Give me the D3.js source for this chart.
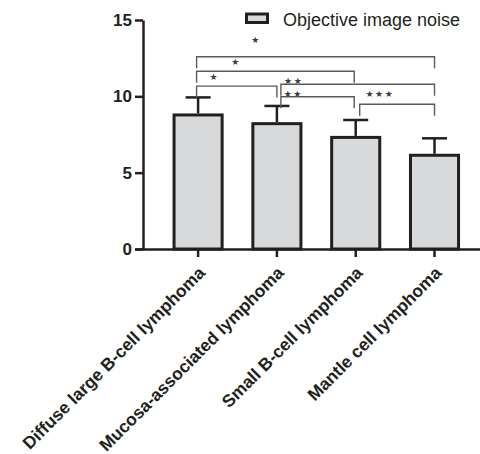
<!DOCTYPE html>
<html lang="en">
<head>
<meta charset="utf-8">
<title>Objective image noise</title>
<script src="https://d3js.org/d3.v7.min.js"></script>
<style>
  body { margin: 0; background: #fff; }
  svg { display: block; font-family: "Liberation Sans", Arial, sans-serif; }
</style>
</head>
<body>
<script>
// data
var categories = ["Diffuse large B-cell lymphoma", "Mucosa-associated lymphoma", "Small B-cell lymphoma", "Mantle cell lymphoma"];
var means = [8.78, 8.21, 7.31, 6.14];
var errors = [1.15, 1.16, 1.14, 1.11];   // upper error (SD)
var yTicks = [0, 5, 10, 15];
var seriesName = "Objective image noise";

// significance brackets: from, to, level (y units), label, label pos along bracket, label level
var bracketFrom = [0, 0, 0, 1, 1, 2];
var bracketTo   = [3, 2, 1, 3, 2, 3];
var bracketY    = [12.59, 11.64, 10.67, 10.79, 9.97, 9.48];
var bracketText = ["★", "★", "★", "★★", "★★", "★★★"];
var labelAt     = [0.25, 0.25, 0.22, 0.083, 0.17, 0.27];
var labelY      = [13.69, 12.25, 11.28, 11.02, 10.2, 10.15];

var width = 480, height = 454;
var dark = "#231f20", fill = "#d8d9db";

var svg = d3.select("body").append("svg")
    .attr("width", width)
    .attr("height", height);

var x = d3.scaleBand()
    .domain(categories)
    .range([143, 489.6])
    .paddingInner(0.39)
    .paddingOuter(0.394);

var y = d3.scaleLinear()
    .domain([0, 15])
    .range([249, 20]);

function cx(i) { return x(categories[i]) + x.bandwidth() / 2; }

// bars
svg.selectAll(".bar")
    .data(means)
    .enter().append("rect")
    .attr("class", "bar")
    .attr("x", function(d, i) { return x(categories[i]); })
    .attr("y", function(d) { return y(d); })
    .attr("width", x.bandwidth())
    .attr("height", function(d) { return y(0) - y(d); })
    .attr("fill", fill)
    .attr("stroke", dark)
    .attr("stroke-width", 3);

// error bars (upper only)
var err = svg.selectAll(".err")
    .data(means)
    .enter().append("g")
    .attr("class", "err")
    .attr("stroke", dark)
    .attr("stroke-width", 2.5);

err.append("line")
    .attr("x1", function(d, i) { return cx(i); })
    .attr("x2", function(d, i) { return cx(i); })
    .attr("y1", function(d) { return y(d) - 1.5; })
    .attr("y2", function(d, i) { return y(d + errors[i]); });

err.append("line")
    .attr("x1", function(d, i) { return cx(i) - 12.5; })
    .attr("x2", function(d, i) { return cx(i) + 12.5; })
    .attr("y1", function(d, i) { return y(d + errors[i]); })
    .attr("y2", function(d, i) { return y(d + errors[i]); });

// axes
var yAxis = svg.append("g")
    .attr("transform", "translate(143,0)")
    .call(d3.axisLeft(y).tickValues(yTicks).tickSize(8).tickSizeOuter(0).tickPadding(3));

var xAxis = svg.append("g")
    .attr("transform", "translate(0," + y(0) + ")")
    .call(d3.axisBottom(x).tickSize(8).tickSizeOuter(0));

[yAxis, xAxis].forEach(function(a) {
    a.select(".domain").attr("stroke", dark).attr("stroke-width", 2.5);
    a.selectAll(".tick line").attr("stroke", dark).attr("stroke-width", 2.5);
    a.selectAll("text")
        .attr("fill", dark)
        .attr("font-family", "'Liberation Sans', Arial, sans-serif")
        .attr("font-weight", "bold")
        .attr("font-size", 17);
});
// extend x axis line left to meet the zero tick
xAxis.select(".domain").attr("d", "M135,0.5H" + width);

xAxis.selectAll(".tick text")
    .attr("font-size", 17.4)
    .attr("text-anchor", "end")
    .attr("x", 0)
    .attr("dy", 0)
    .attr("y", 0)
    .attr("transform", "translate(8,25) rotate(-45)");

// significance brackets
var br = svg.selectAll(".bracket")
    .data(bracketY)
    .enter().append("g")
    .attr("class", "bracket");

function bx1(i) { var f = bracketFrom[i]; return cx(f) + (f === 0 ? -1.5 : 4); }
function bx2(i) { var t = bracketTo[i]; return cx(t) + (t === 2 ? -1.5 : 0); }

br.append("path")
    .attr("fill", "none")
    .attr("stroke", "#5a5a5a")
    .attr("stroke-width", 1.4)
    .attr("d", function(d, i) {
        var yy = y(d), leg = 11.5;
        return "M" + bx1(i) + "," + (yy + leg) + "V" + yy + "H" + bx2(i) + "V" + (yy + leg);
    });

br.append("text")
    .attr("x", function(d, i) { return bx1(i) + (bx2(i) - bx1(i)) * labelAt[i]; })
    .attr("y", function(d, i) { return y(labelY[i]) + 3.4; })
    .attr("text-anchor", "middle")
    .attr("font-family", "'DejaVu Sans', sans-serif")
    .attr("font-size", 9)
    .attr("letter-spacing", 1.6)
    .attr("fill", "#3a3a3a")
    .text(function(d, i) { return bracketText[i]; });

// legend
var legend = svg.append("g");
legend.append("rect")
    .attr("x", 246.5)
    .attr("y", 14)
    .attr("width", 21)
    .attr("height", 8.5)
    .attr("fill", fill)
    .attr("stroke", dark)
    .attr("stroke-width", 3);
legend.append("text")
    .attr("x", 283)
    .attr("y", 25.5)
    .attr("font-size", 18)
    .attr("fill", dark)
    .text(seriesName);
</script>
</body>
</html>
